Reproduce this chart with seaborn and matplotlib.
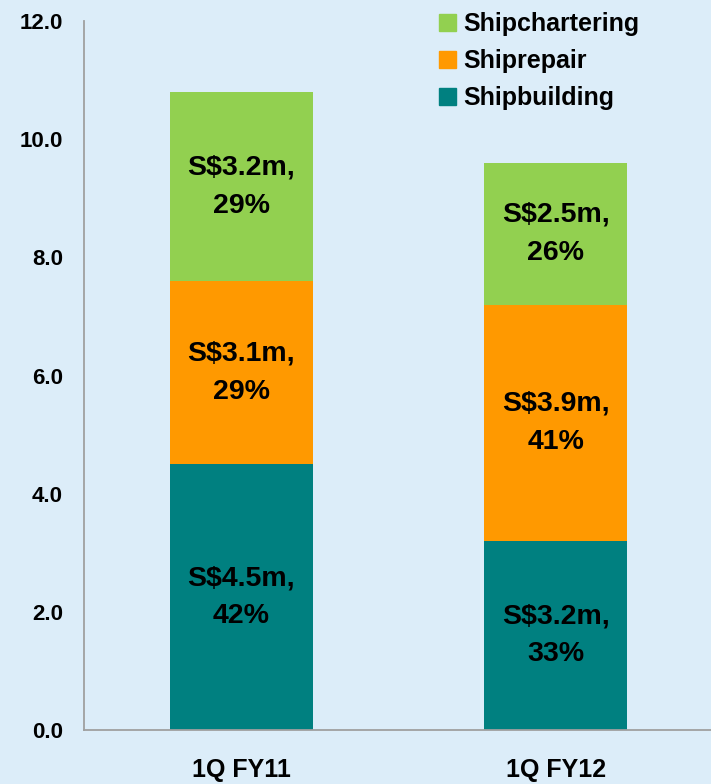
import numpy as np
import pandas as pd
import matplotlib
matplotlib.use("Agg")
import matplotlib.pyplot as plt
import seaborn as sns
from matplotlib.patches import Patch

# datos
periods = ["1Q FY11", "1Q FY12"]
shipbuilding = [4.5, 3.2]
shiprepair = [3.1, 4.0]
shipchartering = [3.2, 2.4]
label_build = ["S$4.5m,\n42%", "S$3.2m,\n33%"]
label_repair = ["S$3.1m,\n29%", "S$3.9m,\n41%"]
label_charter = ["S$3.2m,\n29%", "S$2.5m,\n26%"]
y_ticks = [0, 2, 4, 6, 8, 10, 12]

c_build = "#008080"
c_repair = "#FF9900"
c_charter = "#92D050"
bg = "#DCEDF9"

sns.set_style("white")
plt.rcParams["font.family"] = ["Liberation Sans", "DejaVu Sans"]
plt.rcParams["font.weight"] = "bold"
plt.rcParams["text.color"] = "black"
plt.rcParams["xtick.labelcolor"] = "black"
plt.rcParams["ytick.labelcolor"] = "black"

df = pd.DataFrame({"period": periods, "build": shipbuilding,
                   "repair": shiprepair, "charter": shipchartering})
df["repair_top"] = df["build"] + df["repair"]
df["charter_top"] = df["repair_top"] + df["charter"]

fig = plt.figure(figsize=(7.11, 7.84), dpi=100, facecolor=bg)
ax = fig.add_axes([0.118, 0.069, 0.885, 0.904])
ax.set_facecolor(bg)

w = 0.455
# barras apiladas (acumuladas, de arriba hacia abajo)
kw = dict(width=w, ax=ax, saturation=1, linewidth=0, edgecolor="none")
sns.barplot(data=df, x="period", y="charter_top", color=c_charter, **kw)
sns.barplot(data=df, x="period", y="repair_top", color=c_repair, **kw)
sns.barplot(data=df, x="period", y="build", color=c_build, **kw)

# etiquetas dentro de cada segmento
for i in range(len(df)):
    b = df.loc[i, "build"]
    r = df.loc[i, "repair_top"]
    c = df.loc[i, "charter_top"]
    for yc, txt in [(b / 2, label_build[i]), ((b + r) / 2, label_repair[i]), ((r + c) / 2, label_charter[i])]:
        ax.text(i, yc, txt, ha="center", va="center", fontsize=20.5,
                fontweight="bold", color="black", linespacing=1.6)

ax.set_xlim(-0.5, 1.5)
ax.set_ylim(0, 12)
ax.set_yticks(y_ticks)
ax.set_yticklabels([f"{v:.1f}" for v in y_ticks], fontsize=16, fontweight="bold")
ax.set_xticks(range(len(periods)))
ax.set_xticklabels(periods, fontsize=18, fontweight="bold")
ax.set_xticks([-0.5, 0.5, 1.5], minor=True)
ax.tick_params(axis="x", which="major", length=0, pad=20)
ax.tick_params(axis="x", which="minor", length=8, color="#A0A0A0", width=1.2)
ax.tick_params(axis="y", length=7, color="#A0A0A0", width=1.2, pad=8)
ax.set_xlabel("")
ax.set_ylabel("")

sns.despine(ax=ax, top=True, right=True)
for s in ["left", "bottom"]:
    ax.spines[s].set_color("#A0A0A0")
    ax.spines[s].set_linewidth(1.3)

handles = [Patch(color=c_charter, label="Shipchartering"),
           Patch(color=c_repair, label="Shiprepair"),
           Patch(color=c_build, label="Shipbuilding")]
fig.legend(handles=handles, loc="upper left", bbox_to_anchor=(0.603, 0.997),
           frameon=False, prop={"size": 18, "weight": "bold"},
           handlelength=0.7, handleheight=0.7, handletextpad=0.3,
           labelspacing=0.52, borderaxespad=0.0)

fig.savefig("out.png", dpi=100, facecolor=bg)
